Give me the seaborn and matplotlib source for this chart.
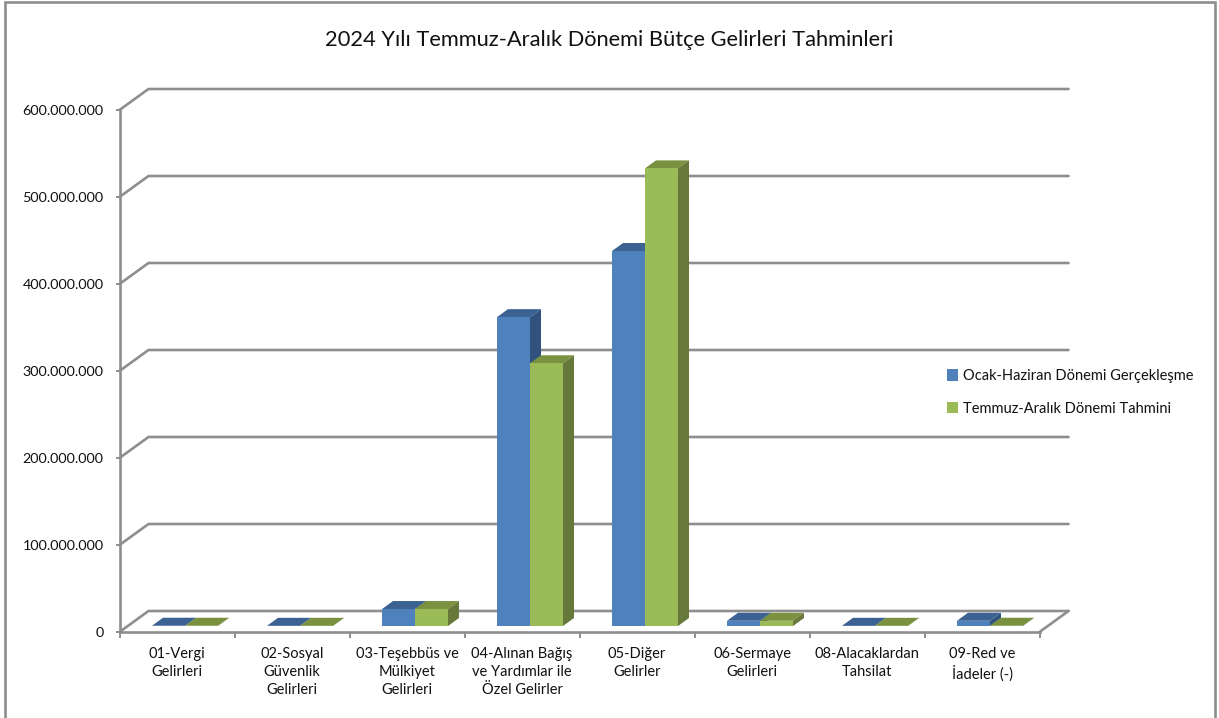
import matplotlib
matplotlib.use("Agg")
import matplotlib.pyplot as plt
from matplotlib.patches import Polygon, Rectangle
from matplotlib.transforms import Affine2D
import pandas as pd
import seaborn as sns

categories = [
    "01-Vergi\nGelirleri",
    "02-Sosyal\nGüvenlik\nGelirleri",
    "03-Teşebbüs ve\nMülkiyet\nGelirleri",
    "04-Alınan Bağış\nve Yardımlar ile\nÖzel Gelirler",
    "05-Diğer\nGelirler",
    "06-Sermaye\nGelirleri",
    "08-Alacaklardan\nTahsilat",
    "09-Red ve\nİadeler (-)",
]
series_names = ["Ocak-Haziran Dönemi Gerçekleşme", "Temmuz-Aralık Dönemi Tahmini"]
actual = [300000, 200000, 19500000, 355000000, 431000000, 6000000, 200000, 6000000]
forecast = [300000, 200000, 19500000, 302000000, 526000000, 6000000, 200000, 300000]
y_ticks = [0, 100000000, 200000000, 300000000, 400000000, 500000000, 600000000]
y_tick_labels = ["0", "100.000.000", "200.000.000", "300.000.000",
                 "400.000.000", "500.000.000", "600.000.000"]

W, H = 1219, 718
GRID = "#8e8e8e"
front = ["#4f81bd", "#9bbb59"]
top = ["#3b6292", "#7a9140"]
side = ["#31527d", "#66783a"]

# 3d look, everything in data units (1 category = 115 px, 100M = 87 px)
WALL_X, WALL_Y = 29 / 115, 21 / 87 * 1e8
FLOOR_X, FLOOR_Y = 8 / 115, 6 / 87 * 1e8
DEPTH_X, DEPTH_Y = 11 / 115, 8 / 87 * 1e8

sns.set_theme(style="white")
plt.rcParams["font.family"] = ["Lato", "DejaVu Sans"]

fig = plt.figure(figsize=(W / 100, H / 100), dpi=100, facecolor="white")
ax = fig.add_axes([119.5 / W, (H - 632) / H, 920 / W, 522 / H])
ax.patch.set_visible(False)

df = pd.DataFrame({
    "kategori": categories * 2,
    "donem": [series_names[0]] * 8 + [series_names[1]] * 8,
    "tutar": actual + forecast,
})
sns.barplot(data=df, x="kategori", y="tutar", hue="donem", palette=front,
            width=0.574, ax=ax, saturation=1, errorbar=None, linewidth=0)

floor = Affine2D().translate(FLOOR_X, FLOOR_Y) + ax.transData
for i, bars in enumerate(ax.containers):
    z = 3 + i
    for bar in bars:
        x0, x1 = bar.get_x(), bar.get_x() + bar.get_width()
        h = bar.get_height()
        bar.set_transform(floor)
        bar.set_clip_on(False)
        bar.set_zorder(z + 0.1)
        ax.add_patch(Polygon([(x0, h), (x1, h), (x1 + DEPTH_X, h + DEPTH_Y), (x0 + DEPTH_X, h + DEPTH_Y)],
                             closed=True, fc=top[i], ec="none", transform=floor, clip_on=False, zorder=z))
        ax.add_patch(Polygon([(x1, 0), (x1, h), (x1 + DEPTH_X, h + DEPTH_Y), (x1 + DEPTH_X, DEPTH_Y)],
                             closed=True, fc=side[i], ec="none", transform=floor, clip_on=False, zorder=z))

# back wall lines
for y in y_ticks:
    ax.plot([-0.5, -0.5 + WALL_X, 7.5 + WALL_X], [y, y + WALL_Y, y + WALL_Y],
            color=GRID, lw=1.9, clip_on=False, zorder=1, solid_joinstyle="miter")
ax.plot([7.5, 7.5 + WALL_X], [0, WALL_Y], color=GRID, lw=1.9, clip_on=False, zorder=1)

ax.set_xlim(-0.5, 7.5)
ax.set_ylim(0, 600000000)
ax.set_xlabel("")
ax.set_ylabel("")
ax.set_yticks(y_ticks)
ax.set_yticklabels(y_tick_labels, fontsize=10.4, color="#111111")
ax.set_xticks(range(8))
ax.set_xticklabels(categories, fontsize=10.5, color="#111111", linespacing=1.36, va="top")
ax.set_xticks([i - 0.5 for i in range(9)], minor=True)
ax.tick_params(axis="y", left=True, length=3, width=1.4, color=GRID, pad=8.5)
ax.tick_params(axis="x", which="major", bottom=False, length=0, pad=10.5)
ax.tick_params(axis="x", which="minor", bottom=True, length=4, width=1.4, color=GRID)

sns.despine(ax=ax, top=True, right=True)
ax.spines["left"].set_color(GRID)
ax.spines["bottom"].set_color(GRID)
ax.spines["left"].set_linewidth(1.9)
ax.spines["bottom"].set_linewidth(1.9)

handles, labels = ax.get_legend_handles_labels()
ax.legend(handles, labels, loc="center left", frameon=False, fontsize=10.5,
          bbox_to_anchor=(933.5 / W, 1 - 392.5 / H), bbox_transform=fig.transFigure,
          handlelength=0.8, handleheight=0.8, handletextpad=0.3,
          labelspacing=1.3, labelcolor="#111111")

fig.suptitle("2024 Yılı Temmuz-Aralık Dönemi Bütçe Gelirleri Tahminleri",
             x=609 / W, y=1 - 39.5 / H, va="center", fontsize=15.75, color="#111111")

# outer chart frame, bottom edge runs off the picture
fig.add_artist(Rectangle((5 / W, -20 / H), 1210 / W, (H + 18) / H, transform=fig.transFigure,
                         fill=False, ec=GRID, lw=1.9))

fig.savefig("out.png", dpi=100)
